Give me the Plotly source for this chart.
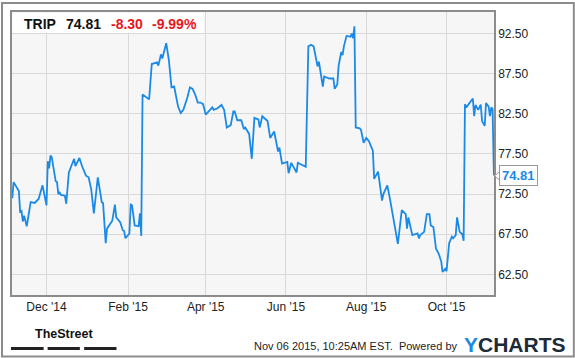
import plotly.graph_objects as go

# ---- data ----
dates = [
    "2014-11-05", "2014-11-06", "2014-11-10", "2014-11-11", "2014-11-12", "2014-11-13", "2014-11-14",
    "2014-11-16", "2014-11-19", "2014-11-22", "2014-11-25", "2014-11-28", "2014-12-01", "2014-12-02",
    "2014-12-03", "2014-12-04", "2014-12-05", "2014-12-08", "2014-12-09", "2014-12-10", "2014-12-11",
    "2014-12-12", "2014-12-15", "2014-12-16", "2014-12-18", "2014-12-22", "2014-12-23", "2014-12-26",
    "2014-12-28", "2014-12-31", "2015-01-02", "2015-01-04", "2015-01-06", "2015-01-09", "2015-01-12",
    "2015-01-13", "2015-01-15", "2015-01-16", "2015-01-20", "2015-01-22", "2015-01-23", "2015-01-26",
    "2015-01-28", "2015-01-29", "2015-01-30", "2015-02-02", "2015-02-03", "2015-02-04", "2015-02-06",
    "2015-02-09", "2015-02-10", "2015-02-11", "2015-02-12", "2015-02-14", "2015-02-17", "2015-02-19",
    "2015-02-23", "2015-02-24", "2015-02-26", "2015-02-27", "2015-03-02", "2015-03-04", "2015-03-06",
    "2015-03-08", "2015-03-10", "2015-03-11", "2015-03-13", "2015-03-15", "2015-03-18", "2015-03-20",
    "2015-03-22", "2015-03-24", "2015-03-26", "2015-03-28", "2015-03-30", "2015-04-01", "2015-04-06",
    "2015-04-07", "2015-04-10", "2015-04-13", "2015-04-15", "2015-04-17", "2015-04-20", "2015-04-22",
    "2015-04-23", "2015-04-25", "2015-04-28", "2015-04-30", "2015-05-01", "2015-05-04", "2015-05-06",
    "2015-05-08", "2015-05-11", "2015-05-12", "2015-05-14", "2015-05-18", "2015-05-20", "2015-05-23",
    "2015-05-26", "2015-05-27", "2015-05-29", "2015-06-02", "2015-06-03", "2015-06-05", "2015-06-07",
    "2015-06-09", "2015-06-10", "2015-06-12", "2015-06-16", "2015-06-18", "2015-06-20", "2015-06-22",
    "2015-06-23", "2015-06-25", "2015-06-26", "2015-06-29", "2015-06-30", "2015-07-04", "2015-07-07",
    "2015-07-08", "2015-07-10", "2015-07-11", "2015-07-13", "2015-07-14", "2015-07-15", "2015-07-17",
    "2015-07-20", "2015-07-21", "2015-07-22", "2015-07-23", "2015-07-24", "2015-07-27", "2015-07-28",
    "2015-07-29", "2015-07-30", "2015-08-01", "2015-08-03", "2015-08-06", "2015-08-07", "2015-08-10",
    "2015-08-13", "2015-08-14", "2015-08-17", "2015-08-19", "2015-08-25", "2015-08-28", "2015-08-31",
    "2015-09-01", "2015-09-02", "2015-09-05", "2015-09-08", "2015-09-09", "2015-09-10", "2015-09-11",
    "2015-09-14", "2015-09-16", "2015-09-18", "2015-09-19", "2015-09-21", "2015-09-23", "2015-09-25",
    "2015-09-27", "2015-09-28", "2015-09-30", "2015-10-01", "2015-10-03", "2015-10-05", "2015-10-06",
    "2015-10-08", "2015-10-09", "2015-10-11", "2015-10-13", "2015-10-14", "2015-10-15", "2015-10-16",
    "2015-10-18", "2015-10-21", "2015-10-22", "2015-10-23", "2015-10-25", "2015-10-27", "2015-10-28",
    "2015-10-30", "2015-10-31", "2015-11-02", "2015-11-03", "2015-11-04", "2015-11-05", "2015-11-06",
]
prices = [
    72.0, 74.0, 72.9, 70.3, 70.4, 69.1, 69.8,
    68.5, 71.5, 71.4, 71.9, 73.6, 71.1, 76.6,
    75.7, 77.3, 77.1, 74.1, 74.0, 72.5, 72.7,
    72.4, 72.3, 71.3, 75.2, 76.9, 76.0, 77.0,
    76.0, 74.8, 74.6, 73.1, 70.1, 74.6, 71.5,
    71.4, 66.4, 68.2, 69.2, 71.2, 69.6, 69.0,
    68.0, 67.9, 67.0, 67.6, 71.2, 71.1, 68.6,
    68.5, 70.1, 67.3, 84.9, 84.7, 84.3, 88.7,
    88.9, 88.5, 89.9, 89.4, 91.3, 89.2, 85.8,
    85.9, 84.1, 83.4, 82.6, 83.0, 84.5, 85.8,
    85.6, 84.9, 83.9, 83.9, 83.7, 82.4, 83.3,
    83.0, 83.2, 83.6, 83.0, 80.8, 81.1, 82.8,
    82.8, 81.7, 81.7, 80.6, 80.8, 80.0, 76.9,
    82.0, 81.8, 80.8, 82.2, 81.6, 79.5, 80.3,
    77.8, 78.3, 76.3, 76.5, 75.1, 76.4, 75.8,
    75.2, 76.4, 76.2, 75.9, 90.9, 91.1, 90.9,
    90.2, 88.4, 89.0, 85.9, 87.15, 86.9, 86.9,
    85.6, 86.2, 88.5, 90.2, 89.8, 90.9, 92.2,
    92.1, 92.5, 91.9, 93.4, 80.8, 80.7, 80.5,
    79.5, 78.9, 79.5, 79.1, 77.9, 74.4, 75.3,
    71.7, 72.5, 73.6, 71.9, 66.3, 70.5, 70.0,
    68.2, 69.6, 67.4, 67.6, 67.6, 67.0, 67.4,
    67.8, 70.0, 70.0, 68.6, 68.4, 65.7, 65.1,
    64.1, 62.8, 63.2, 62.9, 66.4, 67.2, 67.0,
    67.4, 69.6, 67.8, 67.5, 66.7, 83.7, 83.3,
    83.7, 84.4, 82.2, 83.6, 83.0, 83.65, 81.6,
    81.0, 83.85, 83.4, 82.2, 83.3, 83.1, 74.81,
]
ticker = "TRIP"
last_price = "74.81"
change = "-8.30"
change_pct = "-9.99%"
y_ticks = [62.5, 67.5, 72.5, 77.5, 82.5, 87.5, 92.5]

# ---- layout helpers (pixel -> paper) ----
W, H = 575, 358
L, R, T, B = 11, 81, 10, 63
PW, PH = W - L - R, H - T - B


def px(x):
    return (x - L) / PW


def py(y):
    return (H - B - y) / PH


FONT = "Arial, Liberation Sans, sans-serif"
BLUE = "#1a8ae6"
RED = "#e8161b"

fig = go.Figure()
fig.add_trace(go.Scatter(
    x=dates, y=prices, mode="lines",
    line=dict(color=BLUE, width=1.8),
    hoverinfo="skip", showlegend=False,
))

shapes = [
    # outer frame
    dict(type="rect", xref="paper", yref="paper", x0=px(1), x1=px(574), y0=py(357), y1=py(1),
         line=dict(color="#8c8c8c", width=2), fillcolor="rgba(0,0,0,0)", layer="above"),
    # header box
    dict(type="rect", xref="paper", yref="paper", x0=px(11.5), x1=px(203), y0=py(31), y1=py(10.8),
         line=dict(width=0), fillcolor="white", layer="above"),
    # price pointer
    dict(type="path", xref="paper", yref="paper",
         path=f"M {px(494.5)} {py(175)} L {px(500)} {py(170.5)} L {px(500)} {py(179.5)} Z",
         line=dict(color="#999999", width=1), fillcolor="white", layer="above"),
]
for x0, x1 in [(10, 42.7), (46.7, 79), (83.3, 115.7)]:
    shapes.append(dict(type="rect", xref="paper", yref="paper", x0=px(x0), x1=px(x1),
                       y0=py(350.3), y1=py(347.3), line=dict(width=0), fillcolor="#222222"))

annotations = [
    dict(text=f"<b>{ticker}</b>", x=px(21.5), y=py(22.5), font=dict(size=14, color="#111111")),
    dict(text=f"<b>{last_price}</b>", x=px(63), y=py(22.5), font=dict(size=14, color="#111111")),
    dict(text=f"<b>{change}</b>", x=px(108), y=py(22.5), font=dict(size=14, color=RED)),
    dict(text=f"<b>{change_pct}</b>", x=px(149), y=py(22.5), font=dict(size=14, color=RED)),
    dict(text="<b>TheStreet</b>", x=px(63), y=py(334.5), xanchor="center",
         font=dict(size=12.5, color="#111111")),
    dict(text="Nov 06 2015, 10:25AM EST.  Powered by", x=px(460), y=py(346), xanchor="right",
         font=dict(size=11, color="#222222")),
    dict(text="<b><span style='color:#1a8ae6'>Y</span>CHARTS</b>", x=px(462), y=py(345),
         font=dict(size=21, color="#1d2a38")),
]
for a in annotations:
    a.update(xref="paper", yref="paper", showarrow=False, yanchor="middle")
    a.setdefault("xanchor", "left")
    a["font"].setdefault("family", FONT)

annotations.append(dict(
    text=f"<b>{last_price}</b>", x=px(499.5), xref="paper", y=prices[-1], yref="y",
    xanchor="left", yanchor="middle", showarrow=False,
    font=dict(size=13, color=BLUE, family=FONT),
    bgcolor="white", bordercolor="#999999", borderwidth=1, borderpad=2,
))

fig.update_layout(
    width=W, height=H,
    margin=dict(l=L, r=R, t=T, b=B, pad=0),
    paper_bgcolor="white", plot_bgcolor="#f6f6f6",
    font=dict(family=FONT, size=12, color="#222222"),
    showlegend=False,
    shapes=shapes, annotations=annotations,
    xaxis=dict(
        type="date", range=["2014-11-04 19:00", "2015-11-06 01:40"],
        tick0="2014-12-01", dtick="M2", tickformat="%b '%y",
        showgrid=True, gridcolor="#d9d9d9", gridwidth=1,
        showline=True, mirror=True, linecolor="#8c8c8c", linewidth=1.5,
        ticks="", zeroline=False, tickfont=dict(size=12, color="#222222"),
    ),
    yaxis=dict(
        side="right", range=[59.94, 95.18],
        tickvals=y_ticks, tickformat=".2f",
        showgrid=True, gridcolor="#d9d9d9", gridwidth=1,
        showline=True, mirror=True, linecolor="#8c8c8c", linewidth=1.5,
        ticks="", zeroline=False, tickfont=dict(size=12, color="#222222"),
    ),
)

fig.write_html("out.html")
